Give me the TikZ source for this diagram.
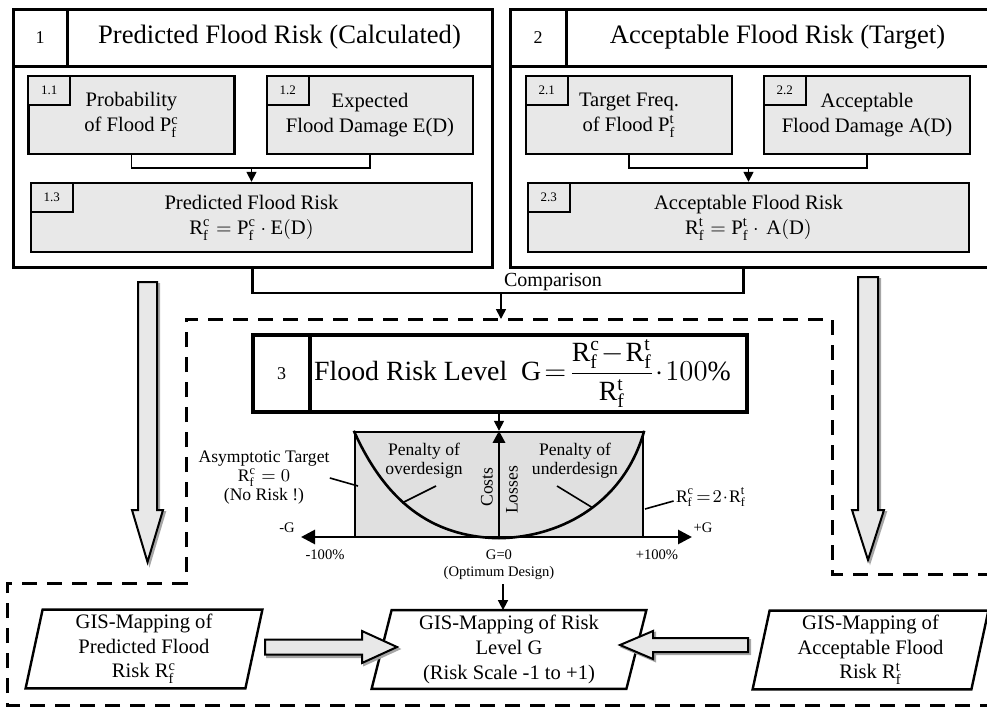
\documentclass[tikz,border=0pt]{standalone}
\usepackage{fontspec}
\setmainfont{Liberation Serif}
\usetikzlibrary{arrows.meta, positioning, calc}

\newcommand{\Rf}[1]{\mathrm{R}_{\mathrm{f}}^{\mathrm{#1}}}
\newcommand{\Pf}[1]{\mathrm{P}_{\mathrm{f}}^{\mathrm{#1}}}

\begin{document}
\begin{tikzpicture}[
    x=0.5pt, y=-0.5pt,
    boxline/.style={rectangle, draw, line width=1.5pt, inner sep=0pt},
    numcell/.style={boxline, font=\fontsize{9}{11}\selectfont},
    titlecell/.style={boxline, minimum height=28.5pt, font=\fontsize{13.3}{16}\selectfont},
    sub/.style={rectangle, draw, line width=1.2pt, fill=black!9, minimum width=103pt, minimum height=39pt, align=center, inner sep=0pt, font=\fontsize{10.3}{12.5}\selectfont},
    tab/.style={rectangle, draw, line width=1pt, fill=black!9, minimum width=21pt, minimum height=14.5pt, anchor=north west, inner sep=1pt, font=\fontsize{6.5}{7}\selectfont},
    link/.style={line width=0.8pt},
    bracket/.style={line width=1.3pt},
    arr/.style={line width=0.8pt, -{Triangle[width=5pt, length=5pt]}},
    gis/.style={rectangle, minimum height=39pt, align=center, inner sep=0pt, font=\fontsize{10.3}{12.3}\selectfont},
    gisline/.style={line width=1.2pt},
    fat/.style={draw, line width=1pt, fill=black!9},
    ghost/.style={draw=black!35, line width=1pt, fill=black!35},
    zone/.style={line width=1.5pt, dash pattern=on 7.5pt off 5pt},
    chartbox/.style={rectangle, draw, line width=1.2pt, fill=black!12, inner sep=0pt},
    axis/.style={line width=1.4pt},
    curve/.style={line width=1.3pt},
    lbl/.style={align=center, inner sep=0pt, font=\fontsize{8.8}{9.5}\selectfont},
    axtext/.style={inner sep=0pt, font=\fontsize{7.3}{8.5}\selectfont}
]
\useasboundingbox (0,0) rectangle (987,707);

% Box 1: predicted risk
\node[numcell, minimum width=27pt, minimum height=28.5pt] (n1) at (40,37.5) {1};
\node[titlecell, minimum width=212.5pt] (t1) at (279.5,37.5) {Predicted Flood Risk (Calculated)};
\node[boxline, minimum width=239.5pt, minimum height=100.5pt] (body1) at (252.5,166.5) {};
\node[sub] (s11) at (131.5,115) {Probability\\of Flood $\Pf{c}$};
\node[sub] (s12) at (370,115) {Expected\\Flood Damage E(D)};
\node[sub, minimum width=220.5pt, minimum height=34.5pt] (s13) at (251.5,217.5) {Predicted Flood Risk\\$\Rf{c} = \Pf{c}\cdot\mathrm{E(D)}$};

% Box 2: acceptable risk
\node[numcell, minimum width=28pt, minimum height=28.5pt] (n2) at (538,37.5) {2};
\node[titlecell, minimum width=211.5pt] (t2) at (777.5,37.5) {Acceptable Flood Risk (Target)};
\node[boxline, minimum width=239.5pt, minimum height=100.5pt] (body2) at (749.5,166.5) {};
\node[sub] (s21) at (629,115) {Target Freq.\\of Flood $\Pf{t}$};
\node[sub] (s22) at (867,115) {Acceptable\\Flood Damage A(D)};
\node[sub, minimum width=220.5pt, minimum height=34.5pt] (s23) at (748.5,217.5) {Acceptable Flood Risk\\$\Rf{t} = \Pf{t}\cdot\,\mathrm{A(D)}$};

\foreach \s/\t in {s11/1.1, s12/1.2, s13/1.3, s21/2.1, s22/2.2, s23/2.3}
  \node[tab] (tab\s) at (\s.north west) {\t};

% Inner connectors
\coordinate (j1) at (251.5,168);
\coordinate (j2) at (748.5,168);
\draw[link] (s11.south) |- (j1) -| (s12.south);
\draw[arr] (j1) -- (s13);
\draw[link] (s21.south) |- (j2) -| (s22.south);
\draw[arr] (j2) -- (s23);

% Comparison
\coordinate (cmp) at (501,293);
\coordinate (ztop) at (501,319);
\draw[bracket] (body1.south) |- (cmp) -| ($(body2.south)+(-6,0)$);
\node[font=\fontsize{10}{12}\selectfont, inner sep=0pt] (cmptxt) at (553,282) {Comparison};
\draw[arr] (cmp) -- (ztop);

% Dashed zone
\draw[zone] (995,705) -- (7,705) -- (7,583) -- (186,583) -- (186,319)
  -- (832,319) -- (832,574) -- (995,574);

% Box 3: risk level
\node[numcell, line width=2pt, minimum width=28.5pt, minimum height=38.5pt] (n3) at (281.5,373.5) {3};
\node[boxline, line width=2pt, minimum width=218.5pt, minimum height=38.5pt] (t3) at (528.5,373.5) {};
\node[inner sep=0pt, font=\fontsize{13.9}{16}\selectfont] (t3txt) at ($(t3.center)+(-6,0)$)
  {\thickmuskip=2mu \medmuskip=1mu Flood Risk Level\enspace$\mathrm{G}=\displaystyle\frac{\Rf{c}-\Rf{t}}{\Rf{t}}\cdot 100\%$};

% Cost / loss chart
\node[chartbox, minimum width=144pt, minimum height=52.5pt] (chart) at (499,484.5) {};
\draw[arr] (t3.south -| chart.north) -- (chart.north);
\coordinate (axL) at (301,537);
\coordinate (axR) at (692,537);
\draw[axis, {Triangle[width=7pt, length=7pt]}-{Triangle[width=7pt, length=7pt]}] (axL) -- (axR);
\draw[axis, -{Triangle[width=6pt, length=6pt]}] (chart.south) -- (chart.north);
\draw[curve] (chart.north west) .. controls (385,500) and (430,537) .. (chart.south)
  .. controls (565,537) and (625,500) .. (chart.north east);

\node[lbl] (asym) at (264,478) {Asymptotic Target\\$\Rf{c}=0$\\(No Risk !)};
\node[lbl] (over) at (424,461) {Penalty of\\overdesign};
\node[lbl] (under) at (575,461) {Penalty of\\underdesign};
\node[lbl] (twice) at (711,497) {\thickmuskip=2mu \medmuskip=1mu $\Rf{c}=2\cdot\Rf{t}$};
\node[lbl, rotate=90] (costs) at (487,487) {Costs};
\node[lbl, rotate=90] (losses) at (512,490) {Losses};

\coordinate (asymE) at (358,486);
\coordinate (overS) at (436,486);
\coordinate (overE) at (402,503);
\coordinate (underS) at (557,486);
\coordinate (underE) at (593,508);
\coordinate (twiceE) at (645,509);
\draw[link] (asym.east) -- (asymE);
\draw[link] (overS) -- (overE);
\draw[link] (underS) -- (underE);
\draw[link] ($(twice.west)+(-2,4)$) -- (twiceE);

\node[axtext] (mG) at (287,528) {-G};
\node[axtext] (pG) at (703,528) {+G};
\node[axtext] (m100) at (325,555) {-100\%};
\node[axtext] (g0) at (499,555) {G=0};
\node[axtext] (p100) at (657,555) {+100\%};
\node[axtext] (opt) at (499,573) {(Optimum Design)};

% Big hollow arrows
\draw[ghost] (140,284) -- (159,284) -- (159,512) -- (165,512) -- (149.5,564) -- (134,512) -- (140,512) -- cycle;
\draw[fat] (138,282) -- (157,282) -- (157,510) -- (163,510) -- (147.5,562) -- (132,510) -- (138,510) -- cycle;
\draw[ghost] (860,279) -- (880,279) -- (880,512) -- (886,512) -- (870,562) -- (854,512) -- (860,512) -- cycle;
\draw[fat] (858,277) -- (878,277) -- (878,510) -- (884,510) -- (868,560) -- (852,510) -- (858,510) -- cycle;

% GIS maps
\node[gis, minimum width=118pt] (g1) at (144,649) {GIS-Mapping of\\Predicted Flood\\Risk $\Rf{c}$};
\node[gis, minimum width=137pt] (g2) at (509,649.5) {GIS-Mapping of Risk\\Level G\\(Risk Scale -1 to +1)};
\node[gis, minimum width=117.5pt] (g3) at (870.5,650) {GIS-Mapping of\\Acceptable Flood\\Risk $\Rf{t}$};
\foreach \g/\d in {g1/17, g2/20, g3/17}
  \draw[gisline] (\g.south west) -- ($(\g.north west)+(\d,0)$) -- (\g.north east)
    -- ($(\g.south east)+(-\d,0)$) -- cycle;

\draw[arr] (opt.south) ++(4,4) -- ($(g2.north)+(-6,0)$);

\draw[ghost] (267,641) -- (364,641) -- (364,633) -- (399,649) -- (364,665) -- (364,657) -- (267,657) -- cycle;
\draw[fat] (265,639.5) -- (362,639.5) -- (362,631) -- (397,647) -- (362,663) -- (362,654.5) -- (265,654.5) -- cycle;
\draw[ghost] (750,640) -- (655,640) -- (655,633) -- (622,647) -- (655,661) -- (655,654) -- (750,654) -- cycle;
\draw[fat] (748,638) -- (653,638) -- (653,631) -- (620,645) -- (653,659) -- (653,652) -- (748,652) -- cycle;
\end{tikzpicture}
\end{document}
